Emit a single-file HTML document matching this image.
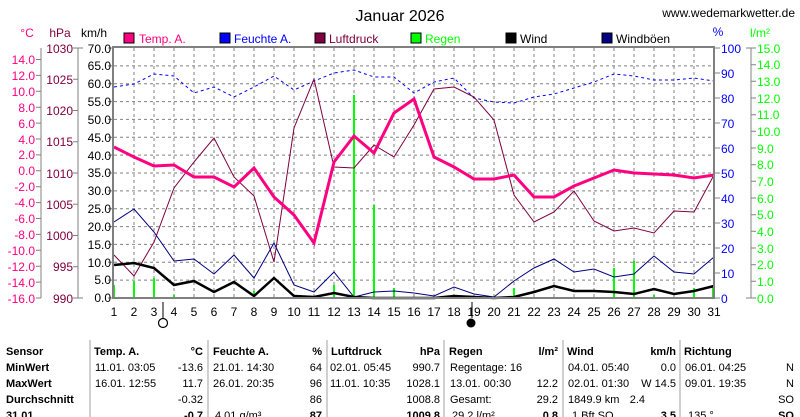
<!DOCTYPE html>
<html><head><meta charset="utf-8"><style>
html,body{margin:0;padding:0;background:#fff;}
svg{display:block;font-family:"Liberation Sans",sans-serif;}
</style></head><body>
<svg width="800" height="417" viewBox="0 0 800 417" xmlns="http://www.w3.org/2000/svg">
<rect width="800" height="417" fill="#fff"/>
<text x="400" y="21" font-size="16" text-anchor="middle" fill="#000">Januar 2026</text>
<text x="795" y="17" font-size="12" text-anchor="end" fill="#000">www.wedemarkwetter.de</text>
<g font-size="12">
<rect x="124" y="33" width="10" height="10" fill="#ff0080" stroke="#000"/><text x="139" y="43" fill="#ff0080">Temp. A.</text>
<rect x="220" y="33" width="10" height="10" fill="#0000ff" stroke="#000"/><text x="234" y="43" fill="#0000ff">Feuchte A.</text>
<rect x="315" y="33" width="10" height="10" fill="#800040" stroke="#000"/><text x="329" y="43" fill="#800040">Luftdruck</text>
<rect x="411" y="33" width="10" height="10" fill="#00ff00" stroke="#000"/><text x="425" y="43" fill="#00ff00">Regen</text>
<rect x="506" y="33" width="10" height="10" fill="#000" stroke="#000"/><text x="520" y="43" fill="#000">Wind</text>
<rect x="602" y="33" width="10" height="10" fill="#000080" stroke="#000"/><text x="616" y="43" fill="#000">Windböen</text>
</g>
<g font-size="12">
<text x="27" y="37" text-anchor="middle" fill="#ff0080">°C</text>
<text x="60" y="37" text-anchor="middle" fill="#800040">hPa</text>
<text x="94" y="37" text-anchor="middle" fill="#000">km/h</text>
<text x="718" y="36" text-anchor="middle" fill="#0000ff">%</text>
<text x="760" y="37" text-anchor="middle" fill="#00ff00">l/m²</text>
</g>
<g stroke="#808080" stroke-width="1" stroke-dasharray="3,3" fill="none">
<path d="M114 65.9H714M114 83.7H714M114 101.6H714M114 119.4H714M114 137.3H714M114 155.1H714M114 173H714M114 190.9H714M114 208.7H714M114 226.6H714M114 244.4H714M114 262.3H714M114 280.1H714"/>
<path d="M134 48V298M154 48V298M174 48V298M194 48V298M214 48V298M234 48V298M254 48V298M274 48V298M294 48V298M314 48V298M334 48V298M354 48V298M374 48V298M394 48V298M414 48V298M434 48V298M454 48V298M474 48V298M494 48V298M514 48V298M534 48V298M554 48V298M574 48V298M594 48V298M614 48V298M634 48V298M654 48V298M674 48V298M694 48V298"/>
</g>
<g stroke="#808080" stroke-width="1" fill="none">
<path d="M41 48V298M36 59.5H41M36 75.4H41M36 91.3H41M36 107.2H41M36 123.1H41M36 139H41M36 154.9H41M36 170.8H41M36 186.7H41M36 202.6H41M36 218.5H41M36 234.4H41M36 250.3H41M36 266.2H41M36 282.1H41M36 298H41"/>
<path d="M78 48V298M73 48H83M73 79.25H78M73 110.5H78M73 141.75H78M73 173H78M73 204.25H78M73 235.5H78M73 266.75H78M73 298H83"/>
<path d="M108 48H113M108 65.9H113M108 83.7H113M108 101.6H113M108 119.4H113M108 137.3H113M108 155.1H113M108 173H113M108 190.9H113M108 208.7H113M108 226.6H113M108 244.4H113M108 262.3H113M108 280.1H113M108 298H113"/>
<path d="M714 48H720M714 73H720M714 98H720M714 123H720M714 148H720M714 173H720M714 198H720M714 223H720M714 248H720M714 273H720M714 298H720"/>
<path d="M751 48V298M751 48H756M746 48H751M751 64.7H756M751 81.3H756M751 98H756M751 114.7H756M751 131.3H756M751 148H756M751 164.7H756M751 181.3H756M751 198H756M751 214.7H756M751 231.3H756M751 248H756M751 264.7H756M751 281.3H756M751 298H756M746 298H751"/>
</g>
<g font-size="12" text-anchor="end" fill="#ff0080">
<text x="35" y="64">14.0</text><text x="35" y="80">12.0</text><text x="35" y="96">10.0</text><text x="35" y="112">8.0</text><text x="35" y="128">6.0</text><text x="35" y="144">4.0</text><text x="35" y="159">2.0</text><text x="35" y="175">0.0</text><text x="35" y="191">-2.0</text><text x="35" y="207">-4.0</text><text x="35" y="223">-6.0</text><text x="35" y="239">-8.0</text><text x="35" y="255">-10.0</text><text x="35" y="271">-12.0</text><text x="35" y="287">-14.0</text><text x="35" y="303">-16.0</text>
</g>
<g font-size="12" text-anchor="end" fill="#800040">
<text x="73" y="53">1030</text><text x="73" y="84">1025</text><text x="73" y="115">1020</text><text x="73" y="146">1015</text><text x="73" y="178">1010</text><text x="73" y="209">1005</text><text x="73" y="240">1000</text><text x="73" y="271">995</text><text x="73" y="303">990</text>
</g>
<g font-size="12" text-anchor="end" fill="#000">
<text x="111" y="53">70.0</text><text x="111" y="70">65.0</text><text x="111" y="88">60.0</text><text x="111" y="106">55.0</text><text x="111" y="124">50.0</text><text x="111" y="142">45.0</text><text x="111" y="160">40.0</text><text x="111" y="177">35.0</text><text x="111" y="195">30.0</text><text x="111" y="213">25.0</text><text x="111" y="231">20.0</text><text x="111" y="249">15.0</text><text x="111" y="267">10.0</text><text x="111" y="284">5.0</text><text x="111" y="302">0.0</text>
</g>
<g font-size="12" fill="#0000ff">
<text x="721" y="53">100</text><text x="721" y="78">90</text><text x="721" y="103">80</text><text x="721" y="128">70</text><text x="721" y="153">60</text><text x="721" y="178">50</text><text x="721" y="203">40</text><text x="721" y="228">30</text><text x="721" y="253">20</text><text x="721" y="278">10</text><text x="721" y="303">0</text>
</g>
<g font-size="12" fill="#00ff00">
<text x="757" y="53">15.0</text><text x="757" y="69">14.0</text><text x="757" y="86">13.0</text><text x="757" y="103">12.0</text><text x="757" y="119">11.0</text><text x="757" y="136">10.0</text><text x="757" y="153">9.0</text><text x="757" y="169">8.0</text><text x="757" y="186">7.0</text><text x="757" y="203">6.0</text><text x="757" y="219">5.0</text><text x="757" y="236">4.0</text><text x="757" y="253">3.0</text><text x="757" y="269">2.0</text><text x="757" y="286">1.0</text><text x="757" y="303">0.0</text>
</g>
<g stroke="#00ff00" stroke-width="2">
<path d="M114 298V285M134 298V281M154 298V278M174 298V295M254 298V291M334 298V285M354 298V95M374 298V205M394 298V288M454 298V295M514 298V288M614 298V268M634 298V261M654 298V295M694 298V288M713 298V285"/>
</g>
<polyline fill="none" stroke="#0000ff" stroke-width="1" stroke-dasharray="3,3" points="114,87 134,84 154,74 174,76 194,93 214,87 234,97 254,87 274,76 294,90 314,81 334,73 354,70 374,77 394,77 414,93 434,82 454,78 474,98 494,102 514,103 534,97 554,94 574,88 594,82 614,74 634,76 654,80 674,80 694,78 714,81"/>
<polyline fill="none" stroke="#800040" stroke-width="1" points="114,255 134,276 154,242 174,188 194,162 214,138 234,177 254,196 274,262 294,128 314,79 334,167 354,168 374,145 394,157 414,125 434,89 454,87 474,97 494,120 514,195 534,222 554,212 574,191 594,221 614,231 634,228 654,233 674,211 694,212 714,175"/>
<polyline fill="none" stroke="#000080" stroke-width="1" points="114,222 134,209 154,232 174,261 194,259 214,274 234,255 254,278 274,243 294,285 314,292 334,272 354,297 374,292 394,291 414,293 434,296 454,287 474,294 494,297 514,281 534,268 554,259 574,272 594,269 614,277 634,274 654,256 674,272 694,274 714,257"/>
<polyline fill="none" stroke="#000" stroke-width="2.5" points="114,265 134,263 154,268 174,285 194,281 214,292 234,282 254,296 274,278 294,296 314,297 334,293 354,297 374,298 394,298 414,298 434,298 454,296 474,297 494,298 514,297 534,292 554,286 574,291 594,291 614,292 634,294 654,289 674,294 694,291 714,286"/>
<polyline fill="none" stroke="#ff0080" stroke-width="3" points="114,147 134,157 154,166 174,165 194,177 214,177 234,187 254,168 274,197 294,215 314,243 334,162 354,136 374,153 394,113 414,99 434,157 454,167 474,179 494,179 514,175 534,197 554,197 574,186 594,178 614,170 634,173 654,174 674,175 694,178 714,175"/>
<rect x="113" y="47" width="601" height="251" fill="none" stroke="#808080" stroke-width="2"/>
<g font-size="12" text-anchor="middle" fill="#000">
<text x="114" y="316">1</text><text x="134" y="316">2</text><text x="154" y="316">3</text><text x="174" y="316">4</text><text x="194" y="316">5</text><text x="214" y="316">6</text><text x="234" y="316">7</text><text x="254" y="316">8</text><text x="274" y="316">9</text><text x="294" y="316">10</text><text x="314" y="316">11</text><text x="334" y="316">12</text><text x="354" y="316">13</text><text x="374" y="316">14</text><text x="394" y="316">15</text><text x="414" y="316">16</text><text x="434" y="316">17</text><text x="454" y="316">18</text><text x="474" y="316">19</text><text x="494" y="316">20</text><text x="514" y="316">21</text><text x="534" y="316">22</text><text x="554" y="316">23</text><text x="574" y="316">24</text><text x="594" y="316">25</text><text x="614" y="316">26</text><text x="634" y="316">27</text><text x="654" y="316">28</text><text x="674" y="316">29</text><text x="694" y="316">30</text><text x="714" y="316">31</text>
</g>
<path d="M163 302V318M472 302V318" stroke="#000" stroke-width="1"/>
<circle cx="163" cy="323" r="4.5" fill="#fff" stroke="#000" stroke-width="1.2"/>
<circle cx="471" cy="323" r="4.5" fill="#000"/>
<g stroke="#a0a0a0" stroke-width="1">
<path d="M90 340V417M208 340V417M327 340V417M444 340V417M563 340V417M680 340V417"/>
</g>
<g font-size="11" fill="#000">
<g font-weight="bold">
<text x="6" y="355">Sensor</text><text x="6" y="371">MinWert</text><text x="6" y="387">MaxWert</text><text x="6" y="403">Durchschnitt</text><text x="6" y="419">31.01</text>
<text x="94" y="355">Temp. A.</text><text x="213" y="355">Feuchte A.</text><text x="331" y="355">Luftdruck</text><text x="449" y="355">Regen</text><text x="567" y="355">Wind</text><text x="684" y="355">Richtung</text>
</g>
<g font-weight="bold" text-anchor="end">
<text x="203" y="355">°C</text><text x="322" y="355">%</text><text x="440" y="355">hPa</text><text x="558" y="355">l/m²</text><text x="676" y="355">km/h</text>
<text x="203" y="419">-0.7</text><text x="322" y="419">87</text><text x="440" y="419">1009.8</text><text x="558" y="419">0.8</text><text x="676" y="419">3.5</text><text x="794" y="419">SO</text>
</g>
<text x="95" y="371">11.01.  03:05</text><text x="95" y="387">16.01.  12:55</text>
<text x="213" y="371">21.01.  14:30</text><text x="213" y="387">26.01.  20:35</text><text x="215" y="419">4.01 g/m³</text>
<text x="330" y="371">02.01.  05:45</text><text x="330" y="387">11.01.  10:35</text>
<text x="450" y="371">Regentage: 16</text><text x="450" y="387">13.01.  00:30</text><text x="450" y="403">Gesamt:</text><text x="452" y="419">29.2 l/m²</text>
<text x="568" y="371">04.01.  05:40</text><text x="568" y="387">02.01.  01:30</text><text x="568" y="403">1849.9 km</text><text x="572" y="419">1 Bft SO</text>
<text x="685" y="371">06.01.  04:25</text><text x="685" y="387">09.01.  19:35</text><text x="688" y="419">135 °</text>
<g text-anchor="end">
<text x="203" y="371">-13.6</text><text x="203" y="387">11.7</text><text x="203" y="403">-0.32</text>
<text x="322" y="371">64</text><text x="322" y="387">96</text><text x="322" y="403">86</text>
<text x="440" y="371">990.7</text><text x="440" y="387">1028.1</text><text x="440" y="403">1008.8</text>
<text x="558" y="387">12.2</text><text x="558" y="403">29.2</text>
<text x="676" y="371">0.0</text><text x="676" y="387">W 14.5</text><text x="645" y="403">2.4</text>
<text x="794" y="371">N</text><text x="794" y="387">N</text><text x="794" y="403">SO</text>
</g>
</g>
</svg>
</body></html>
